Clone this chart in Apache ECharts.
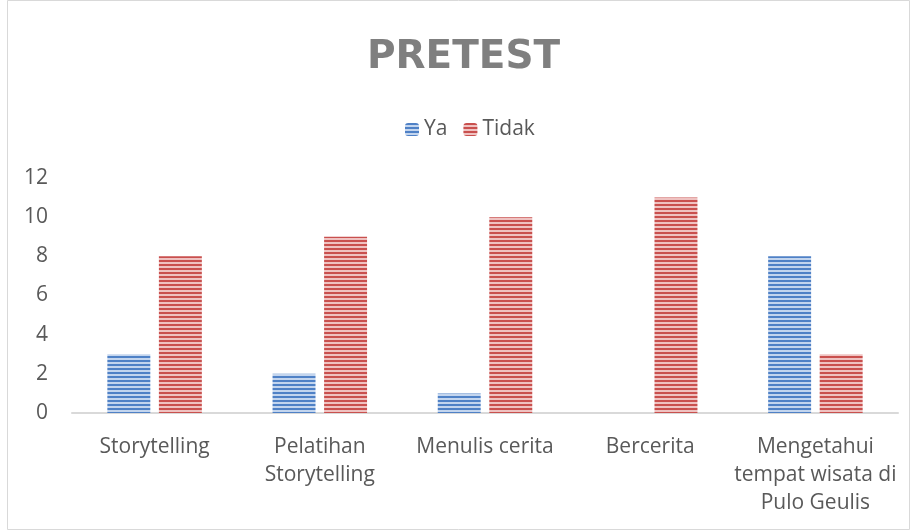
<!DOCTYPE html>
<html>
<head>
<meta charset="utf-8">
<script src="https://cdn.jsdelivr.net/npm/echarts@6/dist/echarts.min.js"></script>
<style>
  html, body { margin: 0; padding: 0; background: #fff; }
  #chart { width: 912px; height: 531px; }
</style>
</head>
<body>
<div id="chart"></div>
<script>
const categories = ['Storytelling', 'Pelatihan\nStorytelling', 'Menulis cerita', 'Bercerita', 'Mengetahui\ntempat wisata di\nPulo Geulis']
const yaValues = [3, 2, 1, 0, 8]
const tidakValues = [8, 9, 10, 11, 3]

// striped fill like the excel pattern
function stripes(dark, light) {
  const c = document.createElement('canvas')
  c.width = 4
  c.height = 4
  const ctx = c.getContext('2d')
  ctx.fillStyle = light
  ctx.fillRect(0, 0, 4, 4)
  ctx.fillStyle = dark
  ctx.fillRect(0, 0, 4, 2)
  return { image: c, repeat: 'repeat' }
}

const blue = stripes('#4f81c6', '#c3d5ee')
const red = stripes('#c9504e', '#efc2c1')
const txt = '#595959'
const font = 'Open Sans'

const chart = echarts.init(document.getElementById('chart'))
chart.setOption({
  animation: false,
  backgroundColor: '#fff',
  graphic: [{
    type: 'rect',
    shape: { x: 7.5, y: 0.5, width: 902, height: 529 },
    style: { fill: 'none', stroke: '#d9d9d9', lineWidth: 1 }
  }],
  title: {
    text: 'PRETEST',
    left: 362,
    top: 33,
    textStyle: { color: '#7f7f7f', fontSize: 39, fontWeight: 'bold', fontFamily: 'DejaVu Sans' }
  },
  legend: {
    top: 114,
    left: 400,
    itemWidth: 14,
    itemHeight: 13,
    itemGap: 16,
    itemStyle: { borderWidth: 0 },
    textStyle: { color: txt, fontSize: 21, fontFamily: font },
    data: ['Ya', 'Tidak']
  },
  grid: { left: 72, right: 14, top: 178, bottom: 118 },
  xAxis: {
    type: 'category',
    data: categories,
    axisLine: { lineStyle: { color: '#d9d9d9', width: 2 } },
    axisTick: { show: false },
    axisLabel: {
      color: txt, fontSize: 21, fontFamily: font, lineHeight: 28,
      interval: 0, margin: 20, verticalAlign: 'top'
    }
  },
  yAxis: {
    type: 'value',
    min: 0,
    max: 12,
    interval: 2,
    splitLine: { show: false },
    axisLine: { show: false },
    axisTick: { show: false },
    axisLabel: { color: txt, fontSize: 21, fontFamily: font, margin: 24 }
  },
  series: [
    {
      name: 'Ya',
      type: 'bar',
      data: yaValues,
      barWidth: '26%',
      barGap: '20%',
      itemStyle: { color: blue }
    },
    {
      name: 'Tidak',
      type: 'bar',
      data: tidakValues,
      barWidth: '26%',
      itemStyle: { color: red }
    }
  ]
})
</script>
</body>
</html>
